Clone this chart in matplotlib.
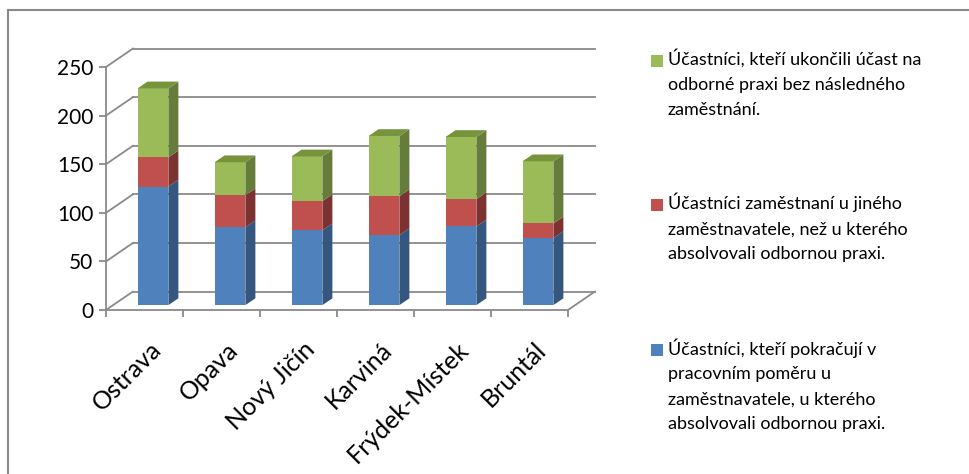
import matplotlib
matplotlib.use("Agg")
import matplotlib.pyplot as plt
from matplotlib.patches import Polygon, Rectangle
from matplotlib.lines import Line2D
import numpy as np

plt.rcParams["font.family"] = ["Lato", "DejaVu Sans"]

districts = ["Ostrava", "Opava", "Nový Jičín", "Karviná", "Frýdek-Místek", "Bruntál"]
continuing = [122, 80, 77, 72, 81, 69]
other_employer = [30, 33, 30, 40, 28, 15]
no_employment = [71, 34, 46, 62, 64, 64]

labels = [
    "Účastníci, kteří pokračují v\npracovním poměru u\nzaměstnavatele, u kterého\nabsolvovali odbornou praxi.",
    "Účastníci zaměstnaní u jiného\nzaměstnavatele, než u kterého\nabsolvovali odbornou praxi.",
    "Účastníci, kteří ukončili účast na\nodborné praxi bez následného\nzaměstnání.",
]
face = ["#4f81bd", "#c0504d", "#9bbb59"]
side = ["#35577f", "#7c3230", "#667c3a"]
top_col = ["#4a6f9c", "#984040", "#77933c"]
grid_col = "#8a8a8a"

W, H = 969, 474
fig = plt.figure(figsize=(W / 100, H / 100), dpi=100)
ax = fig.add_axes([106 / W, (H - 310) / H, 462 / W, 243 / H])
ax.set_xlim(-0.5, 5.5)
ax.set_ylim(0, 250)

# depth of the 3D box (data units)
DX, DY = 0.35, 19.0
# bar position inside the box
bx, by = 0.11, 5.0
bw = 0.40
ddx, ddy = 0.13, 7.0

x = np.arange(len(districts))
yt = np.arange(0, 251, 50)

# back wall, side wall and floor
for v in yt:
    ax.plot([-0.5 + DX, 5.5 + DX], [v + DY, v + DY], color=grid_col, lw=1.3, clip_on=False, zorder=1)
    ax.plot([-0.5, -0.5 + DX], [v, v + DY], color=grid_col, lw=1.3, clip_on=False, zorder=1)
ax.plot([5.5, 5.5 + DX], [0, DY], color=grid_col, lw=1.3, clip_on=False, zorder=1)

series = [continuing, other_employer, no_employment]
bottom = np.zeros(len(districts))
for i, vals in enumerate(series):
    vals = np.array(vals, dtype=float)
    ax.bar(x + bx, vals, bottom=bottom + by, width=bw, color=face[i], zorder=3, clip_on=False)
    for j in range(len(x)):
        xr = x[j] + bx + bw / 2
        b = bottom[j] + by
        t = b + vals[j]
        ax.add_patch(Polygon([(xr, b), (xr + ddx, b + ddy), (xr + ddx, t + ddy), (xr, t)],
                             closed=True, facecolor=side[i], edgecolor="none", zorder=3, clip_on=False))
        if i == len(series) - 1:
            xl = x[j] + bx - bw / 2
            ax.add_patch(Polygon([(xl, t), (xl + ddx, t + ddy), (xr + ddx, t + ddy), (xr, t)],
                                 closed=True, facecolor=top_col[i], edgecolor="none", zorder=3, clip_on=False))
    bottom = bottom + vals

for s in ["top", "right"]:
    ax.spines[s].set_visible(False)
for s in ["left", "bottom"]:
    ax.spines[s].set_color(grid_col)
    ax.spines[s].set_linewidth(1.3)
ax.set_yticks(yt)
ax.tick_params(axis="y", direction="out", length=5, width=1.3, color=grid_col, labelsize=15, pad=4)
ax.set_xticks(np.arange(-0.5, 6, 1))
ax.set_xticklabels([])
ax.tick_params(axis="x", which="major", direction="out", length=5, width=1.3, color=grid_col)
ax.set_xticks(x + 0.06, minor=True)
ax.set_xticklabels(districts, minor=True, rotation=45, ha="right", rotation_mode="anchor", fontsize=18)
ax.tick_params(axis="x", which="minor", length=0, pad=20)
ax.patch.set_alpha(0)

# legend (top to bottom: green, red, blue)
leg_tops = [55, 199, 344]
for k, idx in enumerate([2, 1, 0]):
    y0 = leg_tops[k]
    fig.add_artist(Rectangle((651 / W, 1 - (y0 + 12) / H), 12 / W, 12 / H,
                             transform=fig.transFigure, facecolor=face[idx], edgecolor="none"))
    fig.text(668 / W, 1 - (y0 - 6) / H, labels[idx], ha="left", va="top",
             fontsize=13, linespacing=1.68)

# chart border
fig.add_artist(Line2D([8 / W, 1], [1 - 10 / H, 1 - 10 / H], transform=fig.transFigure, color=grid_col, lw=1.5))
fig.add_artist(Line2D([8 / W, 8 / W], [0, 1 - 10 / H], transform=fig.transFigure, color=grid_col, lw=1.5))

fig.savefig("out.png", dpi=100)
